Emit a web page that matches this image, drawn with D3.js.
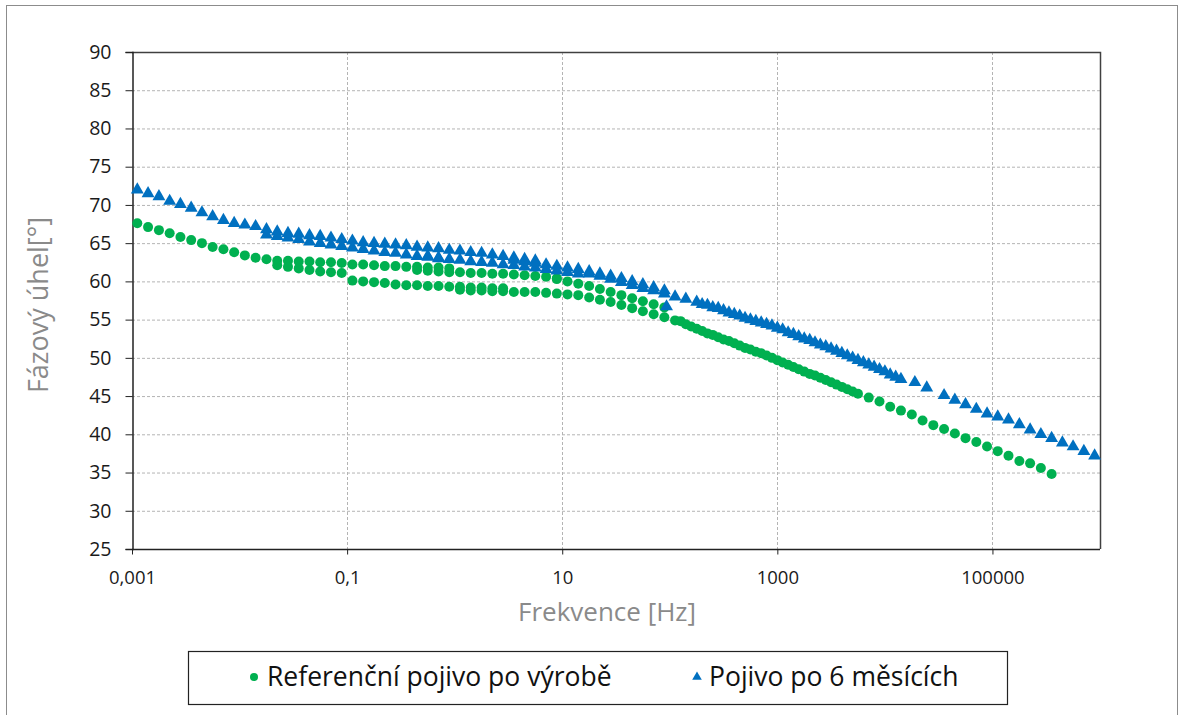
<!DOCTYPE html>
<html>
<head>
<meta charset="utf-8">
<script src="https://cdn.jsdelivr.net/npm/d3@7"></script>
<style>
  body { margin: 0; background: #fff; }
  svg { display: block; font-family: "Open Sans", sans-serif; }
</style>
</head>
<body>
<svg id="chart" width="1184" height="715"></svg>
<script>
// x ticks (log scale) and their labels as shown
xTicks = [0.001, 0.1, 10, 1000, 100000]
xTickLabels = ["0,001", "0,1", "10", "1000", "100000"]
yTicks = [25, 30, 35, 40, 45, 50, 55, 60, 65, 70, 75, 80, 85, 90]

seriesNames = ["Referenční pojivo po výrobě", "Pojivo po 6 měsících"]

// Referenční pojivo po výrobě : [frequency Hz, phase angle deg]
refPoints = [
  // low-frequency branch
  [0.00112, 67.6], [0.00141, 67.1], [0.00178, 66.7], [0.00224, 66.3], [0.00282, 65.8],
  [0.00355, 65.4], [0.00447, 65.0], [0.00562, 64.5], [0.00708, 64.2], [0.00891, 63.8],
  [0.0112, 63.4], [0.0141, 63.1], [0.0178, 62.9], [0.0224, 62.7], [0.0282, 62.7],
  [0.0355, 62.6], [0.0447, 62.6], [0.0562, 62.5], [0.0708, 62.5], [0.0891, 62.4],
  [0.0224, 62.1], [0.0282, 61.9], [0.0355, 61.7], [0.0447, 61.5], [0.0562, 61.3],
  [0.0708, 61.2], [0.0891, 61.1],
  [0.112, 62.2], [0.141, 62.2], [0.178, 62.1], [0.224, 62.0], [0.282, 62.0],
  [0.355, 61.9], [0.447, 61.9], [0.562, 61.8], [0.708, 61.8], [0.891, 61.7],
  [0.112, 60.1], [0.141, 60.0], [0.178, 59.9], [0.224, 59.8], [0.282, 59.6],
  [0.355, 59.5], [0.447, 59.5], [0.562, 59.4], [0.708, 59.4], [0.891, 59.3],
  [1.12, 59.3], [1.41, 59.2], [1.78, 59.2], [2.24, 59.1], [2.82, 59.1],
  [0.447, 61.5], [0.562, 61.4], [0.708, 61.3], [0.891, 61.2], [1.12, 61.2],
  [1.41, 61.1], [1.78, 61.1], [2.24, 61.0], [2.82, 61.0], [3.55, 60.9],
  [4.47, 60.8], [5.62, 60.7], [7.08, 60.6], [8.91, 60.4],
  [1.12, 58.9], [1.41, 58.8], [1.78, 58.8], [2.24, 58.7], [2.82, 58.7],
  [3.55, 58.6], [4.47, 58.6], [5.62, 58.6], [7.08, 58.5], [8.91, 58.4], [11.2, 58.3],
  // 10 - 100 Hz, two branches
  [8.91, 60.3], [11.2, 60.0], [14.1, 59.7], [17.8, 59.4], [22.4, 59.0], [28.2, 58.6],
  [35.5, 58.2], [44.7, 57.8], [56.2, 57.4], [70.8, 57.0], [89.1, 56.6],
  [14.1, 58.2], [17.8, 57.9], [22.4, 57.6], [28.2, 57.3], [35.5, 56.9],
  [44.7, 56.5], [56.2, 56.1], [70.8, 55.7], [89.1, 55.3], [112, 54.9],
  // high-frequency branch
  [126, 54.8], [158, 54.1], [200, 53.5], [251, 53.0], [316, 52.4], [398, 51.9],
  [501, 51.3], [631, 50.8], [794, 50.3], [1000, 49.7], [1260, 49.1], [1580, 48.5],
  [2000, 47.9], [2510, 47.4], [3160, 46.8], [3980, 46.2], [5010, 45.6],
  [141, 54.4], [178, 53.8], [224, 53.2], [282, 52.7], [355, 52.2], [447, 51.6],
  [562, 51.1], [708, 50.6], [891, 50.0], [1120, 49.4], [1410, 48.8], [1780, 48.2],
  [2240, 47.7], [2820, 47.1], [3550, 46.5], [4470, 45.9], [5620, 45.3], [7080, 44.8],
  [8910, 44.3], [11200, 43.6], [14100, 43.1], [17800, 42.6], [22400, 41.8],
  [28200, 41.2], [35500, 40.7], [44700, 40.1], [56200, 39.5], [70800, 39.0],
  [89100, 38.4], [112000, 37.8], [141000, 37.2], [178000, 36.5], [224000, 36.2],
  [282000, 35.6], [355000, 34.8]
]

// Pojivo po 6 měsících : [frequency Hz, phase angle deg]
agedPoints = [
  [0.00112, 72.1], [0.00141, 71.6], [0.00178, 71.2], [0.00224, 70.6], [0.00282, 70.2],
  [0.00355, 69.7], [0.00447, 69.1], [0.00562, 68.6], [0.00708, 68.1], [0.00891, 67.7],
  [0.0112, 67.5], [0.0141, 67.3], [0.0178, 66.9], [0.0224, 66.6], [0.0282, 66.4],
  [0.0355, 66.3], [0.0447, 66.1], [0.0562, 66.0], [0.0708, 65.8], [0.0891, 65.6],
  [0.112, 65.4], [0.141, 65.2], [0.178, 65.1],
  [0.0178, 66.2], [0.0224, 66.0], [0.0282, 65.8], [0.0355, 65.6], [0.0447, 65.3],
  [0.0562, 65.1], [0.0708, 64.9], [0.0891, 64.7], [0.112, 64.5], [0.141, 64.3],
  [0.178, 64.1], [0.224, 63.9], [0.282, 63.8], [0.355, 63.6], [0.447, 63.4],
  [0.562, 63.3], [0.708, 63.1],
  [0.224, 65.0], [0.282, 64.9], [0.355, 64.8], [0.447, 64.6], [0.562, 64.5],
  [0.708, 64.4], [0.891, 64.2], [1.12, 64.1], [1.41, 63.9], [1.78, 63.8],
  [2.24, 63.6], [2.82, 63.4], [3.55, 63.2], [4.47, 63.0], [5.62, 62.8],
  [0.562, 63.4], [0.708, 63.2], [0.891, 63.0], [1.12, 62.9], [1.41, 62.7],
  [1.78, 62.6], [2.24, 62.5], [2.82, 62.3], [3.55, 62.2], [4.47, 62.0],
  [5.62, 61.9], [7.08, 61.7], [8.91, 61.5], [11.2, 61.3], [14.1, 61.1],
  [3.55, 62.9], [4.47, 62.7], [5.62, 62.5], [7.08, 62.3], [8.91, 62.1],
  [11.2, 61.9], [14.1, 61.7], [17.8, 61.4], [22.4, 61.1], [28.2, 60.8],
  [35.5, 60.5], [44.7, 60.1], [56.2, 59.7], [70.8, 59.3], [89.1, 58.9],
  [17.8, 61.1], [22.4, 60.8], [28.2, 60.4], [35.5, 60.0], [44.7, 59.6],
  [56.2, 59.2], [70.8, 58.9], [89.1, 58.5], [112, 58.1], [141, 57.8],
  [178, 57.4], [224, 57.0], [282, 56.6], [355, 56.0], [447, 55.6],
  [562, 55.1], [708, 54.7],
  [93.3, 56.8],
  [200, 57.1], [251, 56.7], [316, 56.3], [398, 55.8], [501, 55.3], [631, 54.9],
  [794, 54.5], [1000, 54.0], [1260, 53.4], [1580, 52.9], [2000, 52.4], [2510, 51.8],
  [3160, 51.3], [3980, 50.7], [5010, 50.1], [6310, 49.5], [7940, 48.9],
  [10000, 48.3], [12600, 47.6],
  [891, 54.3], [1120, 53.8], [1410, 53.2], [1780, 52.6], [2240, 52.1],
  [2820, 51.6], [3550, 51.0], [4470, 50.4], [5620, 49.8], [7080, 49.2],
  [8910, 48.6], [11200, 47.9], [14100, 47.3], [19000, 46.9], [24500, 46.2],
  [35500, 45.2], [44700, 44.6], [56200, 44.0], [70800, 43.4], [89100, 42.8],
  [112000, 42.4], [141000, 42.0], [178000, 41.4], [224000, 40.7], [282000, 40.1],
  [355000, 39.6], [447000, 39.0], [562000, 38.5], [708000, 37.9], [891000, 37.3]
]

green = "#00b050"
blue = "#0070c0"

svg = d3.select("#chart")

// outer frame
svg.append("rect").attr("x", 6.5).attr("y", 5.5).attr("width", 1171).attr("height", 730)
  .attr("fill", "#fff").attr("stroke", "#8c8c8c").attr("stroke-width", 1)

x = d3.scaleLog().domain([0.001, 1000000]).range([132, 1100])
y = d3.scaleLinear().domain([25, 90]).range([549, 52])

// gridlines
grid = svg.append("g").attr("class", "grid")
grid.selectAll(".hgrid").data(yTicks.slice(1)).join("line").attr("class", "hgrid")
  .attr("x1", 132).attr("x2", 1100)
  .attr("y1", d => y(d) + 0.5).attr("y2", d => y(d) + 0.5)
  .attr("stroke", "#b4b4b4").attr("stroke-dasharray", "3,2")
grid.selectAll(".vgrid").data(xTicks.slice(1)).join("line").attr("class", "vgrid")
  .attr("y1", 52).attr("y2", 549)
  .attr("x1", d => Math.round(x(d)) + 0.5).attr("x2", d => Math.round(x(d)) + 0.5)
  .attr("stroke", "#b4b4b4").attr("stroke-dasharray", "3,2")

// plot area border (top / right)
svg.append("path").attr("d", "M132,52.5H1100.5V549")
  .attr("fill", "none").attr("stroke", "#404040").attr("stroke-width", 1.5)

// axes
yAxis = svg.append("g").attr("transform", "translate(132.5,0)")
  .call(d3.axisLeft(y).tickValues(yTicks).tickSize(7).tickPadding(14).tickFormat(d3.format("d")))
xAxis = svg.append("g").attr("transform", "translate(0,549.5)")
  .call(d3.axisBottom(x).tickValues(xTicks).tickSize(5).tickPadding(16)
    .tickFormat((d, i) => xTickLabels[i]))
svg.selectAll(".domain").attr("stroke", "#222").attr("stroke-width", 1.5)
svg.selectAll(".tick line").attr("stroke", "#222")
svg.selectAll(".tick text").attr("font-size", 18.5).attr("fill", "#1a1a1a")
  .attr("font-family", "'Open Sans', sans-serif")
yAxis.selectAll(".tick text").attr("font-size", 19.5)
xAxis.selectAll(".domain").attr("d", "M132,0H1100")

// axis titles
svg.append("text").attr("x", 607).attr("y", 621).attr("text-anchor", "middle")
  .attr("font-size", 26).attr("fill", "#8a8a8a").text("Frekvence [Hz]")
svg.append("text").attr("transform", "translate(48,305) rotate(-90)").attr("text-anchor", "middle")
  .attr("font-size", 27).attr("fill", "#8a8a8a").text("Fázový úhel[°]")

tri = d3.symbol().type(d3.symbolTriangle).size(72)

// series
svg.append("g").selectAll("circle").data(refPoints).join("circle")
  .attr("cx", d => x(d[0])).attr("cy", d => y(d[1])).attr("r", 5)
  .attr("fill", green)
svg.append("g").selectAll("path").data(agedPoints).join("path")
  .attr("transform", d => "translate(" + x(d[0]) + "," + (y(d[1]) + 0.8) + ")")
  .attr("d", tri).attr("fill", blue)

// legend
lg = svg.append("g")
lg.append("rect").attr("x", 188.5).attr("y", 651.5).attr("width", 819).attr("height", 53)
  .attr("fill", "#fff").attr("stroke", "#222").attr("stroke-width", 1.2)
lg.append("circle").attr("cx", 254).attr("cy", 677).attr("r", 4).attr("fill", green)
lg.append("text").attr("x", 267).attr("y", 686).attr("font-size", 26.5).attr("fill", "#111")
  .text(seriesNames[0])
lg.append("path").attr("transform", "translate(697,677)")
  .attr("d", d3.symbol().type(d3.symbolTriangle).size(40)).attr("fill", blue)
lg.append("text").attr("x", 709).attr("y", 686).attr("font-size", 26.5).attr("fill", "#111")
  .text(seriesNames[1])
</script>
</body>
</html>
